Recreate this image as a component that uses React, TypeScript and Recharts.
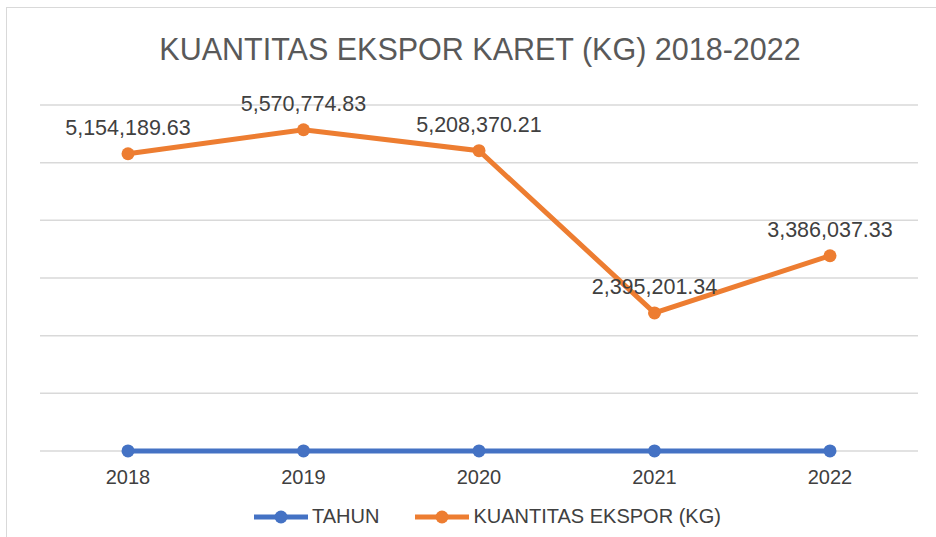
import { LineChart, Line, XAxis, YAxis, CartesianGrid, LabelList } from 'recharts';

// tahun (x categories) and the two series shown in the original Excel chart
const years = ['2018', '2019', '2020', '2021', '2022'];
const tahun = [2018, 2019, 2020, 2021, 2022];
const kuantitas = [5154189.63, 5570774.83, 5208370.21, 2395201.34, 3386037.33];
const yTicks = [0, 1000000, 2000000, 3000000, 4000000, 5000000, 6000000];

const BLUE = '#4472C4';
const ORANGE = '#ED7D31';
const FONT = '"Liberation Sans", Arial, sans-serif';

const data = years.map((y, i) => ({
  year: y,
  tahun: tahun[i],
  kuantitas: kuantitas[i],
}));

const fmt = (v: number) =>
  v.toLocaleString('en-US', { minimumFractionDigits: 2, maximumFractionDigits: 2 });

const LegendItem = ({ color, label, gap }: { color: string; label: string; gap: number }) => (
  <div style={{ display: 'flex', alignItems: 'center', marginRight: gap }}>
    <svg width={58} height={14}>
      <line x1={2} y1={7} x2={56} y2={7} stroke={color} strokeWidth={5} />
      <circle cx={29} cy={7} r={6.5} fill={color} />
    </svg>
    <span style={{ marginLeft: 2 }}>{label}</span>
  </div>
);

const App = () => {
  return (
    <div
      style={{
        position: 'absolute',
        left: 0,
        top: 0,
        width: 936,
        height: 537,
        overflow: 'hidden',
        background: '#fff',
        fontFamily: FONT,
      }}
    >
      <div
        style={{
          position: 'absolute',
          left: 6,
          top: 7,
          width: 1000,
          height: 1000,
          border: '1px solid #d9d9d9',
        }}
      />
      <div
        style={{
          position: 'absolute',
          left: 0,
          top: 32,
          width: 960,
          textAlign: 'center',
          fontSize: 30.5,
          color: '#595959',
        }}
      >
        KUANTITAS EKSPOR KARET (KG) 2018-2022
      </div>
      <div style={{ position: 'absolute', left: 0, top: 0 }}>
        <LineChart
          width={936}
          height={537}
          data={data}
          margin={{ top: 105, right: 18, bottom: 46, left: 40 }}
        >
          <CartesianGrid vertical={false} stroke="#d9d9d9" strokeWidth={1.5} />
          <XAxis
            dataKey="year"
            padding={{ left: 88, right: 88 }}
            axisLine={false}
            tickLine={false}
            height={40}
            tickMargin={13}
            tick={{ fill: '#404040', fontSize: 20, fontFamily: FONT }}
          />
          <YAxis hide domain={[0, 6000000]} ticks={yTicks} />
          <Line
            dataKey="tahun"
            stroke={BLUE}
            strokeWidth={5}
            dot={{ r: 6.5, fill: BLUE, stroke: BLUE, strokeWidth: 0 }}
            isAnimationActive={false}
          />
          <Line
            dataKey="kuantitas"
            stroke={ORANGE}
            strokeWidth={5}
            dot={{ r: 6.5, fill: ORANGE, stroke: ORANGE, strokeWidth: 0 }}
            isAnimationActive={false}
          >
            <LabelList
              dataKey="kuantitas"
              position="top"
              offset={19}
              formatter={(v: number) => fmt(v)}
              style={{ fill: '#404040', fontSize: 21.5, fontFamily: FONT }}
            />
          </Line>
        </LineChart>
      </div>
      <div
        style={{
          position: 'absolute',
          left: 252,
          top: 505,
          display: 'flex',
          alignItems: 'center',
          fontSize: 20,
          color: '#404040',
        }}
      >
        <LegendItem color={BLUE} label="TAHUN" gap={34} />
        <LegendItem color={ORANGE} label="KUANTITAS EKSPOR (KG)" gap={0} />
      </div>
    </div>
  );
};

export default App;
